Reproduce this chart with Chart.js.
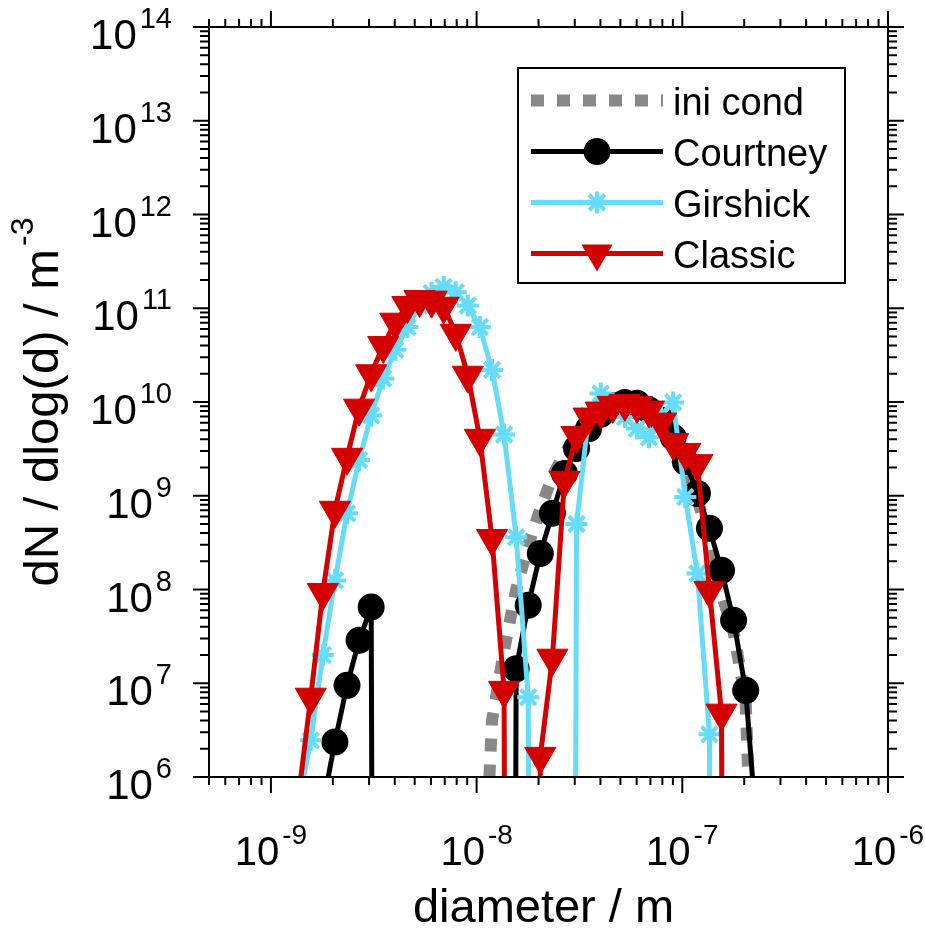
<!DOCTYPE html>
<html>
<head>
<meta charset="utf-8">
<script src="https://cdn.jsdelivr.net/npm/chart.js"></script>
<style>
  html, body { margin: 0; padding: 0; background: #fff; }
  canvas { display: block; }
</style>
</head>
<body>
<canvas id="psd" width="925" height="935"></canvas>
<script>
// size distributions, one value per size bin
// 0 = empty bin (curve drops out of the log axis), null = not plotted

const diameters = [
  1.190e-9, 1.365e-9, 1.562e-9, 1.788e-9, 2.047e-9, 2.344e-9, 2.683e-9, 3.072e-9,
  3.516e-9, 4.025e-9, 4.608e-9, 5.276e-9, 6.040e-9, 6.914e-9, 7.916e-9, 9.062e-9,
  1.037e-8, 1.188e-8, 1.360e-8, 1.557e-8, 1.782e-8, 2.040e-8, 2.336e-8, 2.674e-8,
  3.061e-8, 3.504e-8, 4.012e-8, 4.593e-8, 5.258e-8, 6.019e-8, 6.891e-8, 7.888e-8,
  9.030e-8, 1.034e-7, 1.184e-7, 1.355e-7, 1.551e-7, 1.776e-7, 2.033e-7, 2.327e-7,
  2.664e-7
]

const iniCond = [
  null, null, null, null, null, null, null, null,
  null, null, null, null, null, null, null, null,
  6e3, 4.0e6, 2.25e7, 1.0e8, 2.96e8, 7.2e8, 1.61e9, 2.84e9,
  4.2e9, 5.8e9, 7.6e9, 9.0e9, 9.7e9, 9.4e9, 8.4e9, 6.7e9,
  4.6e9, 2.4e9, 9.0e8, 3.5e8, 9.0e7, 3.5e7, 6.5e6, 1e3,
  null
]

const courtney = [
  null, null, null, 5e5, 2.36e6, 9.5e6, 2.87e7, 6.5e7,
  0, 0, 0, 0, 0, 0, 0, 0,
  0, 0, 0, 1.43e7, 6.8e7, 2.42e8, 6.5e8, 1.73e9,
  3.2e9, 5.2e9, 7.4e9, 9.2e9, 9.9e9, 9.7e9, 8.2e9, 6.4e9,
  4.2e9, 2.3e9, 1.06e9, 4.5e8, 1.6e8, 4.7e7, 8.4e6, 1.9e5,
  null
]

const girshick = [
  null, 5.4e5, 2.46e6, 2.0e7, 1.25e8, 6.5e8, 2.4e9, 7.2e9,
  1.78e10, 3.6e10, 6.3e10, 1.07e11, 1.45e11, 1.69e11, 1.48e11, 1.07e11,
  6.3e10, 2.2e10, 4.5e9, 3.6e8, 7.1e6, 0, 0, 0,
  5.0e8, 7.2e9, 1.23e10, 9.7e9, 6.9e9, 5.2e9, 4.2e9, 7.2e9,
  9.9e9, 9.7e8, 1.48e8, 2.85e6, 0, null, null, null,
  null
]

const classic = [
  1e4, 6.5e5, 7.1e6, 9.3e7, 7.0e8, 2.57e9, 8.6e9, 2.0e10,
  4.0e10, 7.1e10, 1.07e11, 1.24e11, 1.22e11, 1.05e11, 5.4e10, 1.93e10,
  4.1e9, 3.5e8, 8.4e6, 0, 0, 1.66e6, 1.85e7, 1.46e9,
  4.4e9, 6.9e9, 8.0e9, 9.2e9, 9.7e9, 9.2e9, 8.2e9, 6.1e9,
  3.7e9, 2.9e9, 2.2e9, 9.8e7, 4.8e6, 0, null, null,
  null
]

const xRange = [5e-10, 1e-6]
const yRange = [1e6, 1e14]
const xTickExps = [-9, -8, -7, -6]
const yTickExps = [6, 7, 8, 9, 10, 11, 12, 13, 14]

const seriesNames = ['ini cond', 'Courtney', 'Girshick', 'Classic']
const GREY = '#888888'
const BLACK = '#000000'
const CYAN = '#66dcf8'
const RED = '#d40000'
const FONT = "'Liberation Sans', Arial, Helvetica, sans-serif"

// a zero cannot sit on a log axis: push it far below the frame so the curve
// falls straight out of the plot, as in the original
const toPlot = (v) => v === null ? null : (v === 0 ? 1e-30 : v)
const pts = (vals) => diameters.map((d, i) => ({ x: d, y: toPlot(vals[i]) }))

function drawMarker(ctx, style, x, y, color) {
  ctx.save()
  ctx.fillStyle = color
  ctx.strokeStyle = color
  ctx.beginPath()
  if (style === 'circle') {
    ctx.arc(x, y, 13.5, 0, Math.PI * 2)
    ctx.fill()
  } else if (style === 'star') {
    ctx.lineWidth = 4
    for (let i = 0; i < 4; i++) {
      const a = i * Math.PI / 4
      ctx.moveTo(x - Math.sin(a) * 11, y - Math.cos(a) * 11)
      ctx.lineTo(x + Math.sin(a) * 11, y + Math.cos(a) * 11)
    }
    ctx.stroke()
  } else if (style === 'triangle') {
    const r = 18
    ctx.moveTo(x, y + r)
    ctx.lineTo(x - 0.866 * r, y - 0.5 * r)
    ctx.lineTo(x + 0.866 * r, y - 0.5 * r)
    ctx.closePath()
    ctx.fill()
  }
  ctx.restore()
}

// "10" with a raised exponent
function powLabel(ctx, exp, x, y, align, size) {
  const base = '10'
  const sup = String(exp)
  const supSize = Math.round(size * 0.7)
  ctx.font = size + 'px ' + FONT
  const wb = ctx.measureText(base).width
  ctx.font = supSize + 'px ' + FONT
  const ws = ctx.measureText(sup).width
  const w = wb + 3 + ws
  let x0 = x
  if (align === 'right') x0 = x - w
  if (align === 'center') x0 = x - w / 2
  ctx.textAlign = 'left'
  ctx.textBaseline = 'alphabetic'
  ctx.font = size + 'px ' + FONT
  ctx.fillText(base, x0, y)
  ctx.font = supSize + 'px ' + FONT
  ctx.fillText(sup, x0 + wb + 3, y - 21)
}

const framePlugin = {
  id: 'frame',
  afterDatasetsDraw(chart) {
    const { ctx, chartArea: a, scales } = chart
    const xs = scales.x
    const ys = scales.y
    ctx.save()
    ctx.strokeStyle = '#000'
    ctx.fillStyle = '#000'
    ctx.lineWidth = 2
    ctx.strokeRect(a.left, a.top, a.right - a.left, a.bottom - a.top)

    // ticks point outwards on all four sides
    ctx.beginPath()
    const xLo = Math.floor(Math.log10(xRange[0]))
    const xHi = Math.log10(xRange[1])
    for (let e = xLo; e <= xHi; e++) {
      for (let m = 1; m < 10; m++) {
        const v = m * Math.pow(10, e)
        if (v < xRange[0] * 0.999 || v > xRange[1] * 1.001) continue
        const px = xs.getPixelForValue(v)
        const len = m === 1 ? 16 : 8
        ctx.moveTo(px, a.bottom); ctx.lineTo(px, a.bottom + len)
        ctx.moveTo(px, a.top); ctx.lineTo(px, a.top - len)
      }
    }
    const yLo = Math.log10(yRange[0])
    const yHi = Math.log10(yRange[1])
    for (let e = yLo; e <= yHi; e++) {
      for (let m = 1; m < 10; m++) {
        const v = m * Math.pow(10, e)
        if (v > yRange[1] * 1.001) continue
        const py = ys.getPixelForValue(v)
        const len = m === 1 ? 16 : 9
        ctx.moveTo(a.left, py); ctx.lineTo(a.left - len, py)
        ctx.moveTo(a.right, py); ctx.lineTo(a.right + len, py)
      }
    }
    ctx.stroke()

    // tick labels
    xTickExps.forEach((e) => {
      powLabel(ctx, '-' + Math.abs(e), xs.getPixelForValue(Math.pow(10, e)), a.bottom + 88, 'center', 40)
    })
    yTickExps.forEach((e) => {
      powLabel(ctx, e, 172, ys.getPixelForValue(Math.pow(10, e)) + 22, 'right', 42)
    })

    // axis titles
    ctx.font = '47px ' + FONT
    ctx.textAlign = 'center'
    ctx.textBaseline = 'alphabetic'
    ctx.fillText('diameter / m', (a.left + a.right) / 2 - 5, 922)

    const main = 'dN / dlog(d) / m'
    const sup = '-3'
    ctx.font = '49px ' + FONT
    const w1 = ctx.measureText(main).width
    ctx.font = '32px ' + FONT
    const w2 = ctx.measureText(sup).width
    const W = w1 + 3 + w2
    ctx.save()
    ctx.translate(58, (a.top + a.bottom) / 2)
    ctx.rotate(-Math.PI / 2)
    ctx.textAlign = 'left'
    ctx.font = '49px ' + FONT
    ctx.fillText(main, -W / 2, 0)
    ctx.font = '32px ' + FONT
    ctx.fillText(sup, -W / 2 + w1 + 3, -25)
    ctx.restore()

    // legend box inside the plot
    const lx = 518, ly = 68, lw = 327, lh = 215
    ctx.fillStyle = '#fff'
    ctx.fillRect(lx, ly, lw, lh)
    ctx.strokeStyle = '#000'
    ctx.lineWidth = 2
    ctx.strokeRect(lx, ly, lw, lh)
    chart.data.datasets.forEach((ds, i) => {
      const ry = 100.5 + 51 * i
      ctx.save()
      ctx.strokeStyle = ds.borderColor
      ctx.lineWidth = ds.borderWidth
      ctx.lineCap = 'butt'
      ctx.setLineDash(ds.borderDash || [])
      ctx.beginPath()
      ctx.moveTo(531, ry)
      ctx.lineTo(663, ry)
      ctx.stroke()
      ctx.restore()
      if (ds.pointRadius > 0) drawMarker(ctx, ds.pointStyle, 597, ry, ds.borderColor)
      ctx.fillStyle = '#000'
      ctx.font = '38px ' + FONT
      ctx.textAlign = 'left'
      ctx.textBaseline = 'alphabetic'
      ctx.fillText(ds.label, 673, ry + 14)
    })
    ctx.restore()
  }
}

const chart = new Chart(document.getElementById('psd'), {
  type: 'line',
  data: {
    datasets: [
      {
        label: seriesNames[0],
        data: pts(iniCond),
        borderColor: GREY,
        borderWidth: 12,
        borderDash: [13, 13],
        borderCapStyle: 'butt',
        borderJoinStyle: 'round',
        pointRadius: 0,
        order: 4,
      },
      {
        label: seriesNames[1],
        data: pts(courtney),
        borderColor: BLACK,
        borderWidth: 5,
        borderJoinStyle: 'round',
        pointStyle: 'circle',
        pointRadius: 13.5,
        pointBackgroundColor: BLACK,
        pointBorderColor: BLACK,
        pointBorderWidth: 0,
        order: 3,
      },
      {
        label: seriesNames[2],
        data: pts(girshick),
        borderColor: CYAN,
        borderWidth: 5,
        borderJoinStyle: 'round',
        pointStyle: 'star',
        pointRadius: 11,
        pointBorderWidth: 4,
        pointBorderColor: CYAN,
        pointBackgroundColor: CYAN,
        order: 2,
      },
      {
        label: seriesNames[3],
        data: pts(classic),
        borderColor: RED,
        borderWidth: 5,
        borderJoinStyle: 'round',
        pointStyle: 'triangle',
        pointRotation: 180,
        pointRadius: 18,
        pointBackgroundColor: RED,
        pointBorderColor: RED,
        pointBorderWidth: 1,
        order: 1,
      },
    ]
  },
  options: {
    responsive: false,
    animation: false,
    events: [],
    layout: { padding: { left: 209, top: 27, right: 37, bottom: 158 } },
    plugins: {
      legend: { display: false },
      tooltip: { enabled: false },
    },
    scales: {
      x: { type: 'logarithmic', min: xRange[0], max: xRange[1], display: false },
      y: { type: 'logarithmic', min: yRange[0], max: yRange[1], display: false },
    }
  },
  plugins: [framePlugin]
})
</script>
</body>
</html>
